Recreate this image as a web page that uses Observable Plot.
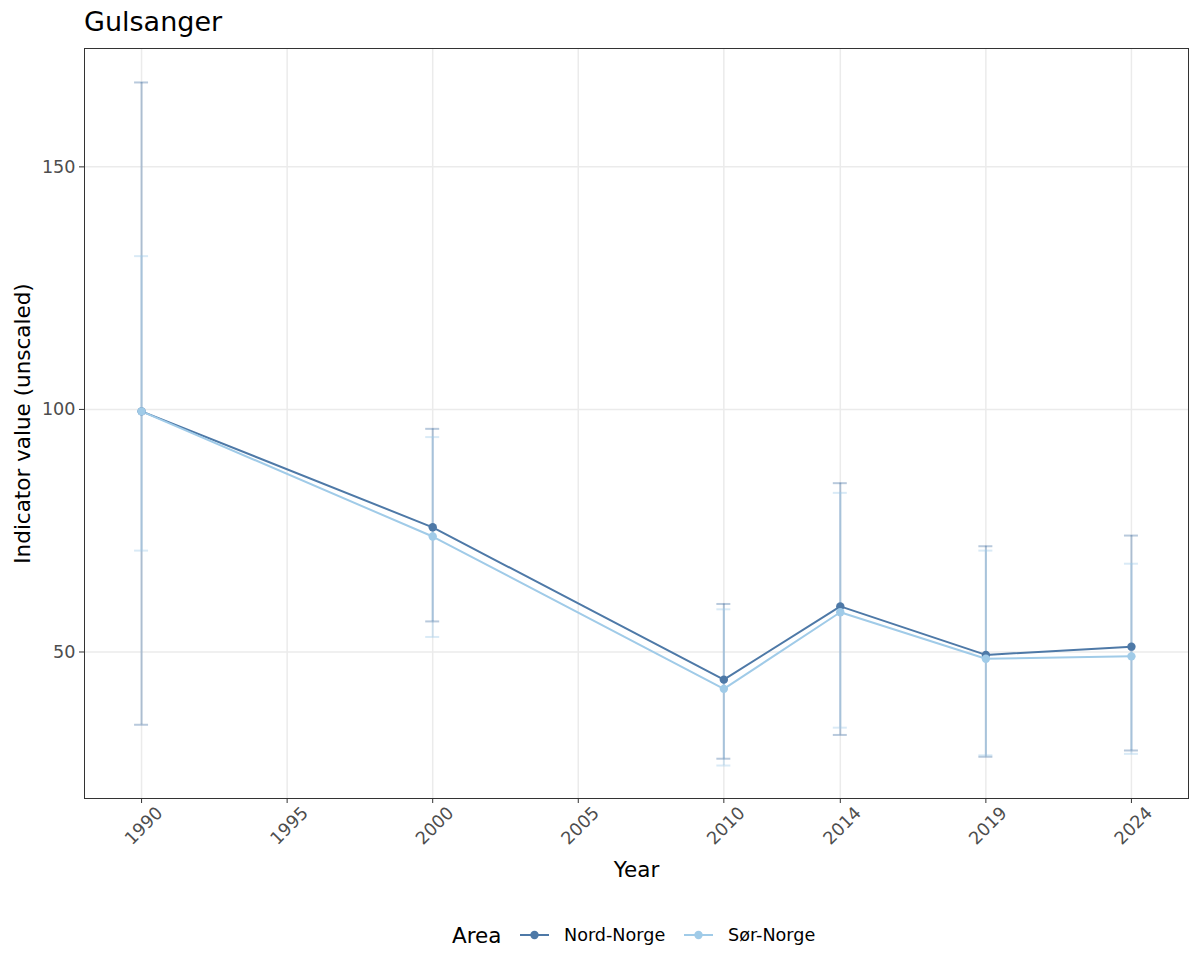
<!DOCTYPE html>
<html>
<head>
<meta charset="utf-8">
<script src="https://cdn.jsdelivr.net/npm/d3@7"></script>
<script src="https://cdn.jsdelivr.net/npm/@observablehq/plot@0.6"></script>
<style>
  html, body { margin: 0; padding: 0; background: white; }
  #wrap { position: relative; width: 1200px; height: 975px; font-family: "DejaVu Sans", sans-serif; }
  #title { position: absolute; left: 84px; top: 8px; font-size: 27px; line-height: 1; color: black; white-space: nowrap; }
  #legend { position: absolute; left: 0; top: 905px; }
  #chart { position: absolute; left: 0; top: 0; }
</style>
</head>
<body>
<div id="wrap">
  <div id="chart"></div>
  <div id="title"></div>
  <svg id="legend" width="1200" height="60"></svg>
</div>
<script>
const titleText = "Gulsanger";
const xLabel = "Year";
const yLabel = "Indicator value (unscaled)";
const legendTitle = "Area";

const areas = ["Nord-Norge", "Sør-Norge"];
const areaColors = ["#4e79a7", "#a0cbe8"];
const years = [1990, 2000, 2010, 2014, 2019, 2024];

const nordValue = [99.6, 75.7, 44.3, 59.4, 49.4, 51.1];
const nordLower = [35.0, 56.3, 28.0, 32.9, 28.4, 29.7];
const nordUpper = [167.4, 96.0, 59.9, 84.8, 71.8, 74.0];

const sorValue = [99.6, 73.8, 42.4, 58.2, 48.6, 49.1];
const sorLower = [70.9, 53.1, 26.6, 34.4, 28.7, 29.0];
const sorUpper = [131.6, 94.3, 58.8, 82.8, 70.9, 68.2];

const xTicks = [1990, 1995, 2000, 2005, 2010, 2014, 2019, 2024];
const yTicks = [50, 100, 150];

const rows = [];
years.forEach((yr, i) => rows.push({area: areas[0], year: yr, value: nordValue[i], lower: nordLower[i], upper: nordUpper[i]}));
years.forEach((yr, i) => rows.push({area: areas[1], year: yr, value: sorValue[i], lower: sorLower[i], upper: sorUpper[i]}));

const capHalf = 0.24;

const chart = Plot.plot({
  width: 1200,
  height: 975,
  marginLeft: 84,
  marginRight: 12,
  marginTop: 48,
  marginBottom: 177,
  style: {fontFamily: "DejaVu Sans", fontSize: "17.6px", background: "white", color: "#4d4d4d"},
  x: {domain: [1988.04, 2025.96]},
  y: {domain: [19.8, 174.4]},
  color: {domain: areas, range: areaColors},
  marks: [
    Plot.gridX(xTicks, {stroke: "#ebebeb", strokeOpacity: 1, strokeWidth: 1.5}),
    Plot.gridY(yTicks, {stroke: "#ebebeb", strokeOpacity: 1, strokeWidth: 1.5}),
    Plot.ruleX(rows, {x: "year", y1: "lower", y2: "upper", stroke: "area", strokeOpacity: 0.4, strokeWidth: 2}),
    Plot.ruleY(rows, {y: "upper", x1: d => d.year - capHalf, x2: d => d.year + capHalf, stroke: "area", strokeOpacity: 0.4, strokeWidth: 2}),
    Plot.ruleY(rows, {y: "lower", x1: d => d.year - capHalf, x2: d => d.year + capHalf, stroke: "area", strokeOpacity: 0.4, strokeWidth: 2}),
    Plot.line(rows, {x: "year", y: "value", stroke: "area", z: "area", strokeWidth: 2}),
    Plot.dot(rows, {x: "year", y: "value", fill: "area", r: 4.2}),
    Plot.frame({stroke: "#333333", strokeWidth: 1}),
    Plot.axisX(xTicks, {tickSize: 5, text: null, label: null, stroke: "#333333"}),
    Plot.axisX(xTicks, {tickRotate: -45, tickSize: 0, tickPadding: 9, tickFormat: d => String(d), label: null, fill: "#4d4d4d", fontSize: 17.6, dx: 18, dy: 2.5}),
    Plot.axisY(yTicks, {tickSize: 5, tickPadding: 4, label: null, stroke: "#333333", fill: "#4d4d4d", fontSize: 17.6}),
    Plot.text([xLabel], {frameAnchor: "bottom", lineAnchor: "middle", dy: 72, text: d => d, fontSize: 21.5, fill: "black"}),
    Plot.text([yLabel], {frameAnchor: "left", textAnchor: "middle", lineAnchor: "middle", dx: -61, rotate: -90, text: d => d, fontSize: 21.5, fill: "black"})
  ]
});
document.getElementById("chart").appendChild(chart);

document.getElementById("title").textContent = titleText;

// Legend
const lg = d3.select("#legend");
const cy = 30;
lg.append("text").attr("x", 452).attr("y", cy).attr("dy", "0.36em")
  .attr("font-family", "DejaVu Sans").attr("font-size", 21.5).attr("fill", "black").text(legendTitle);
const keyX = [520, 684];
areas.forEach((a, i) => {
  const x0 = keyX[i];
  lg.append("line").attr("x1", x0).attr("x2", x0 + 29).attr("y1", cy).attr("y2", cy)
    .attr("stroke", areaColors[i]).attr("stroke-width", 2);
  lg.append("circle").attr("cx", x0 + 14.5).attr("cy", cy).attr("r", 4.2).attr("fill", areaColors[i]);
  lg.append("text").attr("x", x0 + 44).attr("y", cy).attr("dy", "0.36em")
    .attr("font-family", "DejaVu Sans").attr("font-size", 17.6).attr("fill", "black").text(a);
});
</script>
</body>
</html>
